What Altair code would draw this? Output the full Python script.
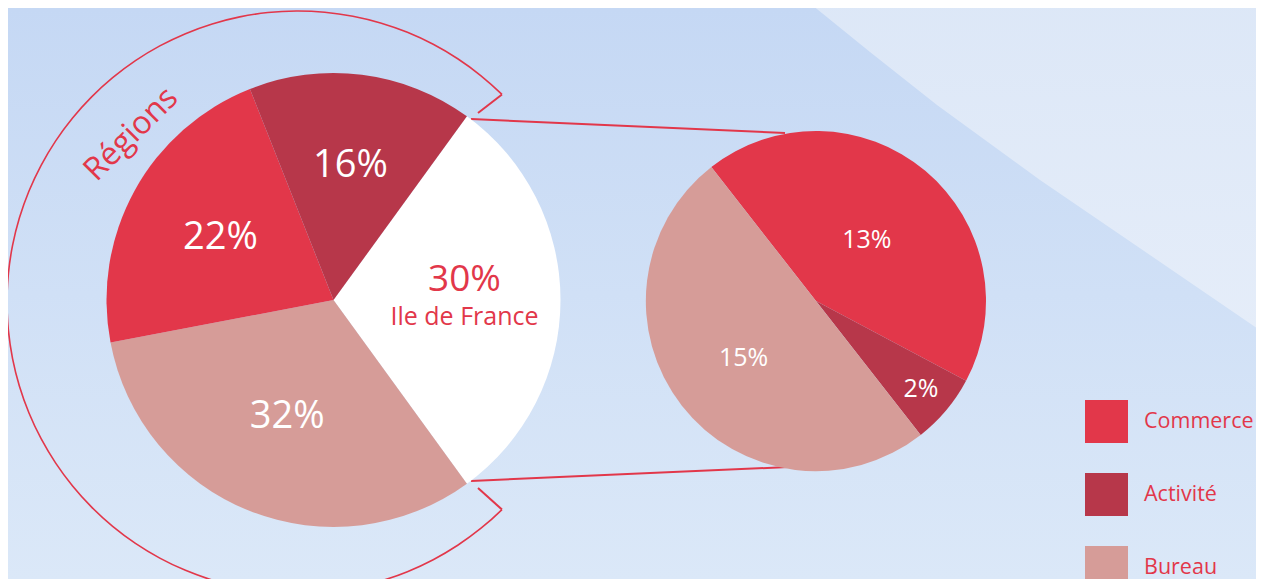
import math
import altair as alt
import pandas as pd

# ---------------- data ----------------
big_categories = ["Ile de France", "Bureau", "Commerce", "Activité"]
big_values = [30, 32, 22, 16]
big_labels = ["30%", "32%", "22%", "16%"]

small_categories = ["Commerce", "Activité", "Bureau"]
small_values = [13, 2, 15]
small_labels = ["13%", "2%", "15%"]

legend_items = ["Commerce", "Activité", "Bureau"]
bracket_label = ["Régions"]
idf_label = "Ile de France"

# ---------------- style / layout ----------------
COLOR_DOMAIN = ["Commerce", "Activité", "Bureau", "Ile de France"]
COLOR_RANGE = ["#e2374a", "#b7374a", "#d69c98", "#ffffff"]
RED = "#e2374a"
FONT = "Open Sans"

W, H = 1248, 571          # drawing area (page minus the 8px margin)
X0, Y0 = 8, 8             # reference-pixel coordinate of the chart origin

BIG_C = (333.5, 300)
BIG_R = 227
BIG_START = 36            # degrees, clockwise from 12 o'clock
SMALL_C = (816, 301)
SMALL_R = 170
SMALL_START = 322

BRACKET_C = (298, 302)
BRACKET_R = 291
BRACKET_END = 44.5        # degrees either side of 3 o'clock direction

# label radius per slice (px from pie centre)
BIG_LABEL_R = {"Bureau": 126, "Commerce": 129, "Activité": 135}
SMALL_LABEL_R = {"Commerce": 79, "Activité": 137, "Bureau": 92}


def rad(d):
    return d * math.pi / 180.0


# bracket ends, then ticks going inward
top_end = (BRACKET_C[0] + BRACKET_R * math.sin(rad(BRACKET_END)),
           BRACKET_C[1] - BRACKET_R * math.cos(rad(BRACKET_END)))
bot_end = (BRACKET_C[0] + BRACKET_R * math.sin(rad(180 - BRACKET_END)),
           BRACKET_C[1] - BRACKET_R * math.cos(rad(180 - BRACKET_END)))

# decorative segments (reference pixel coords): x, y, x2, y2
seg_x = [471, 471, top_end[0], bot_end[0]]
seg_y = [119, 481, top_end[1], bot_end[1]]
seg_x2 = [785, 788, 478, 478]
seg_y2 = [133, 467, 113, 488]

# lighter band boundary in upper right
band_x = [796, 870, 937, 1040, 1147, 1270]
band_y = [-8, 52, 105, 180, 253, 337]

xs = alt.Scale(domain=[X0, X0 + W], nice=False, zero=False)
ys = alt.Scale(domain=[Y0, Y0 + H], nice=False, zero=False, reverse=True)
cs = alt.Scale(domain=COLOR_DOMAIN, range=COLOR_RANGE)


def X(v):
    return alt.X(datum=v, type="quantitative", scale=xs, axis=None)


def Y(v):
    return alt.Y(datum=v, type="quantitative", scale=ys, axis=None)


legend = alt.Legend(
    orient="none", legendX=1085 - X0, legendY=400 - Y0, values=legend_items,
    title=None, symbolType="square", symbolSize=43 * 43, symbolStrokeWidth=0,
    symbolOpacity=1, labelFont=FONT, labelFontSize=21.5, labelColor=RED,
    labelOffset=16, rowPadding=30, padding=0, labelLimit=0,
)

big_df = pd.DataFrame({
    "cat": big_categories, "value": big_values, "pct": big_labels,
    "idx": list(range(len(big_values))),
})
small_df = pd.DataFrame({
    "cat": small_categories, "value": small_values, "pct": small_labels,
    "idx": list(range(len(small_values))),
})

theta_big_range = [rad(BIG_START), rad(BIG_START) + 2 * math.pi]
theta_small_range = [rad(SMALL_START), rad(SMALL_START) + 2 * math.pi]

bg_grad = alt.Gradient(
    gradient="linear", x1=0, y1=0, x2=0, y2=1,
    stops=[alt.GradientStop(color="#c5d8f4", offset=0),
           alt.GradientStop(color="#dbe8f8", offset=1)],
)
band_grad = alt.Gradient(
    gradient="linear", x1=0, y1=0, x2=0, y2=1,
    stops=[alt.GradientStop(color="#dce7f7", offset=0),
           alt.GradientStop(color="#e5edf9", offset=1)],
)

one = alt.Data(values=[{}])

background = alt.Chart(one).mark_rect(color=bg_grad).encode(
    x=alt.value(0), x2=alt.value(W), y=alt.value(0), y2=alt.value(H)
)

band = alt.Chart(pd.DataFrame({"x": band_x, "y": band_y})).mark_area(
    color=band_grad, clip=True
).encode(
    x=alt.X("x:Q", scale=xs, axis=None),
    y=alt.Y("y:Q", scale=ys, axis=None),
    y2=alt.Y2(datum=-20),
)

bracket = alt.Chart(one).mark_arc(color=RED).encode(
    x=X(BRACKET_C[0]), y=Y(BRACKET_C[1]),
    theta=alt.value(rad(180 - BRACKET_END)), theta2=alt.value(rad(360 + BRACKET_END)),
    radius=alt.value(BRACKET_R + 0.8), radius2=alt.value(BRACKET_R - 0.8),
)

segments = alt.Chart(pd.DataFrame({
    "x": seg_x, "y": seg_y, "x2": seg_x2, "y2": seg_y2
})).mark_rule(color=RED, strokeWidth=2).encode(
    x=alt.X("x:Q", scale=xs, axis=None),
    y=alt.Y("y:Q", scale=ys, axis=None),
    x2="x2:Q", y2="y2:Q",
)


def pie(df, center, radius, trange):
    return alt.Chart(df).mark_arc(radius=radius).encode(
        x=X(center[0]), y=Y(center[1]),
        theta=alt.Theta("value:Q", stack=True,
                        scale=alt.Scale(domain=[0, float(df["value"].sum())], range=trange)),
        order=alt.Order("idx:Q"),
        color=alt.Color("cat:N", scale=cs, legend=legend),
    )


def pie_text(df, center, trange, cat, text_field, radius, size, color, dy=0):
    total = float(df["value"].sum())
    base = alt.Chart(df).transform_window(
        cum="sum(value)", sort=[alt.SortField("idx")], frame=[None, 0]
    ).transform_calculate(
        mid="datum.cum - datum.value / 2", name="'%s'" % idf_label
    ).transform_filter(alt.datum.cat == cat)
    return base.mark_text(
        radius=radius, fontSize=size, color=color, font=FONT, dy=dy
    ).encode(
        x=X(center[0]), y=Y(center[1]),
        theta=alt.Theta("mid:Q", scale=alt.Scale(domain=[0, total], range=trange)),
        text=text_field,
    )


big_pie = pie(big_df, BIG_C, BIG_R, theta_big_range)
small_pie = pie(small_df, SMALL_C, SMALL_R, theta_small_range)

text_layers = []
for c, r in BIG_LABEL_R.items():
    text_layers.append(pie_text(big_df, BIG_C, theta_big_range, c, "pct:N", r, 38, "white"))
text_layers.append(pie_text(big_df, BIG_C, theta_big_range, "Ile de France", "pct:N",
                            131, 37, RED, dy=-20))
text_layers.append(pie_text(big_df, BIG_C, theta_big_range, "Ile de France", "name:N",
                            131, 25, RED, dy=17))
for c, r in SMALL_LABEL_R.items():
    text_layers.append(pie_text(small_df, SMALL_C, theta_small_range, c, "pct:N", r, 25, "white"))

regions = alt.Chart(pd.DataFrame({"t": bracket_label})).mark_text(
    angle=315, fontSize=32, color=RED, font=FONT, align="center", baseline="middle"
).encode(x=X(131), y=Y(134), text="t:N")

chart = alt.layer(
    background, band, bracket, segments, big_pie, small_pie, *text_layers, regions,
).resolve_scale(theta="independent").properties(
    width=W, height=H, padding=0, autosize=alt.AutoSizeParams(type="none"),
    background="#cddff6",
).configure_view(strokeWidth=0)

chart.save("out.html", embed_options={"renderer": "svg", "actions": False})
